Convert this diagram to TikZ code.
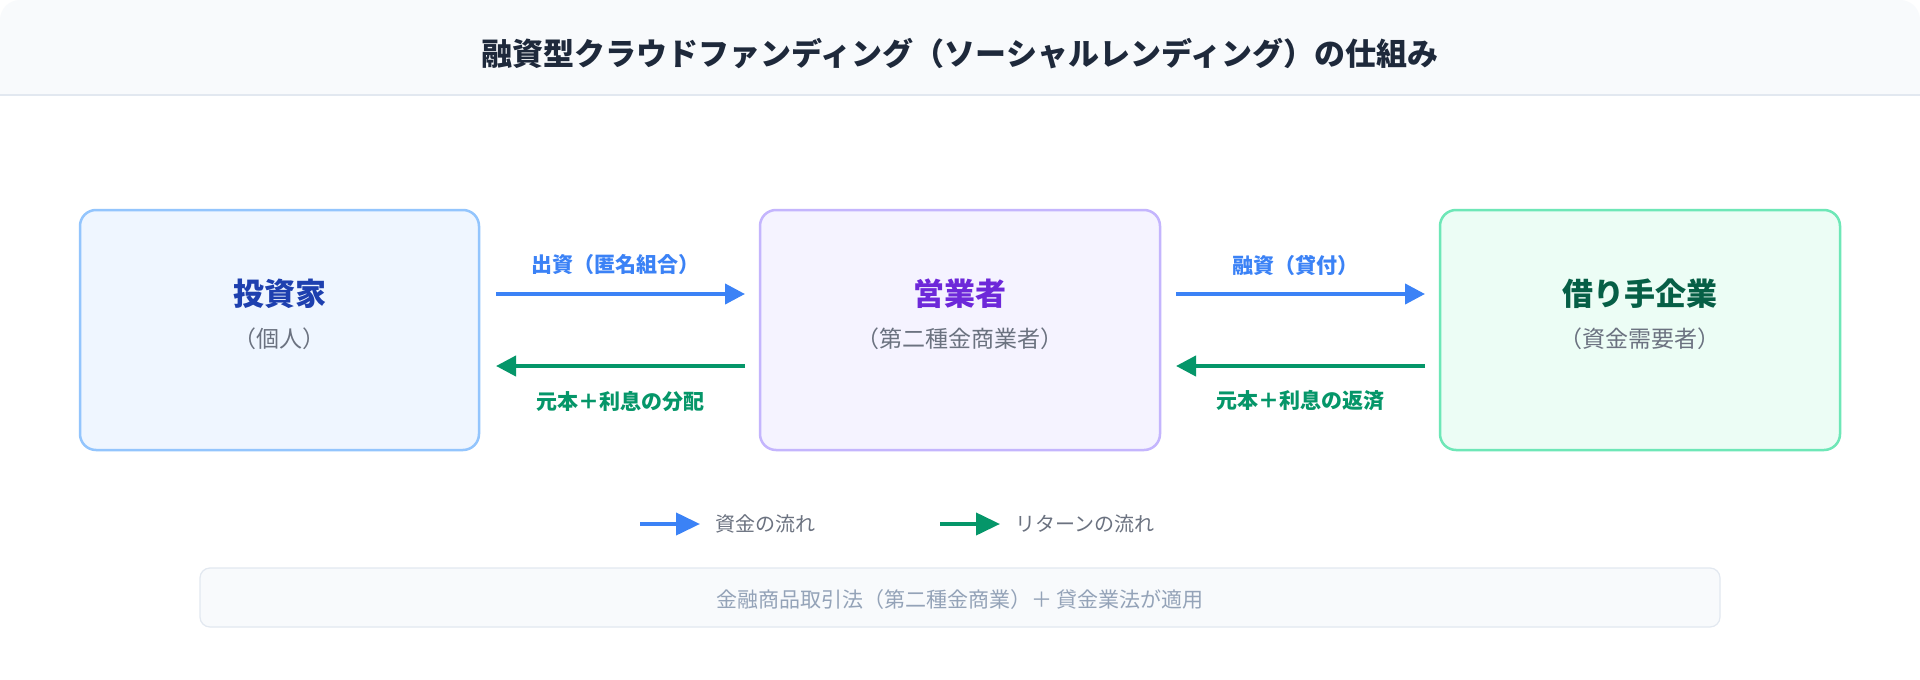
\documentclass[tikz,border=0pt]{standalone}
\usepackage{fontspec}
\setmainfont{Noto Sans CJK JP}
\usetikzlibrary{arrows.meta}
\definecolor{hdr}{HTML}{F8FAFC}\definecolor{hdrl}{HTML}{E2E8F0}
\definecolor{ttl}{HTML}{1E293B}
\definecolor{bf}{HTML}{EFF6FF}\definecolor{bs}{HTML}{93C5FD}\definecolor{bt}{HTML}{1E40AF}
\definecolor{pf}{HTML}{F5F3FF}\definecolor{ps}{HTML}{C4B5FD}\definecolor{pt}{HTML}{6D28D9}
\definecolor{gf}{HTML}{ECFDF5}\definecolor{gs}{HTML}{6EE7B7}\definecolor{gt}{HTML}{065F46}
\definecolor{ab}{HTML}{3B82F6}\definecolor{ag}{HTML}{059669}
\definecolor{sub}{HTML}{6B7280}\definecolor{note}{HTML}{94A3B8}
\tikzset{x=1pt,y=-1pt,
 box/.style={draw=#1,line width=2.5pt,rounded corners=16pt},
 main/.style={font=\fontsize{31}{36}\selectfont\bfseries},
 subt/.style={font=\fontsize{23}{28}\selectfont,text=sub},
 lab/.style={font=\fontsize{21}{25}\selectfont\bfseries},
 flow/.style={line width=4pt,-{Triangle[length=20pt,width=20pt]}},
 leg/.style={font=\fontsize{20}{24}\selectfont,text=sub,anchor=west}}
\begin{document}
\begin{tikzpicture}
\useasboundingbox (0,0) rectangle (1920,680);
\fill[white] (0,0) rectangle (1920,680);
\fill[hdr,rounded corners=20pt] (0,0) rectangle (1920,60);
\fill[hdr] (0,30) rectangle (1920,95);
\draw[hdrl,line width=1.5pt] (0,95) -- (1920,95);
\node[font=\fontsize{31}{36}\selectfont\bfseries,text=ttl] (title) at (960,54) {融資型クラウドファンディング（ソーシャルレンディング）の仕組み};
% boxes
\path[box=bs,fill=bf] (80,210) rectangle (479,450);
\path[box=ps,fill=pf] (760,210) rectangle (1160,450);
\path[box=gs,fill=gf] (1440,210) rectangle (1840,450);
\node[main,text=bt] (inv) at (279.5,294) {投資家};
\node[subt] (invs) at (279.5,339) {（個人）};
\node[main,text=pt] (op) at (960,294) {営業者};
\node[subt] (ops) at (960,339) {（第二種金商業者）};
\node[main,text=gt] (bor) at (1640,294) {借り手企業};
\node[subt] (bors) at (1640,339) {（資金需要者）};
\coordinate (a1s) at (496,294); \coordinate (a1e) at (745,294);
\coordinate (a2s) at (745,366); \coordinate (a2e) at (496,366);
\coordinate (a3s) at (1176,294); \coordinate (a3e) at (1425,294);
\coordinate (a4s) at (1425,366); \coordinate (a4e) at (1176,366);
\draw[flow,ab] (a1s) -- (a1e);
\draw[flow,ag] (a2s) -- (a2e);
\draw[flow,ab] (a3s) -- (a3e);
\draw[flow,ag] (a4s) -- (a4e);
\node[lab,text=ab] (l1) at (615,265) {出資（匿名組合）};
\node[lab,text=ag] (l2) at (620,401) {元本＋利息の分配};
\node[lab,text=ab] (l3) at (1295,265) {融資（貸付）};
\node[lab,text=ag] (l4) at (1300,401) {元本＋利息の返済};
% legend
\coordinate (lb1) at (640,524); \coordinate (lb2) at (700,524);
\draw[flow,ab,-{Triangle[length=24pt,width=22pt]}] (lb1) -- (lb2);
\node[leg] (lbt) at (712,524) {資金の流れ};
\coordinate (lg1) at (940,524); \coordinate (lg2) at (1000,524);
\draw[flow,ag,-{Triangle[length=24pt,width=22pt]}] (lg1) -- (lg2);
\node[leg] (lgt) at (1012,524) {リターンの流れ};
% note
\draw[hdrl,fill=hdr,line width=1.2pt,rounded corners=10pt] (200,568) rectangle (1720,627);
\node[font=\fontsize{21}{25}\selectfont,text=note] (nt) at (960,600) {金融商品取引法（第二種金商業）＋ 貸金業法が適用};
\end{tikzpicture}
\end{document}
